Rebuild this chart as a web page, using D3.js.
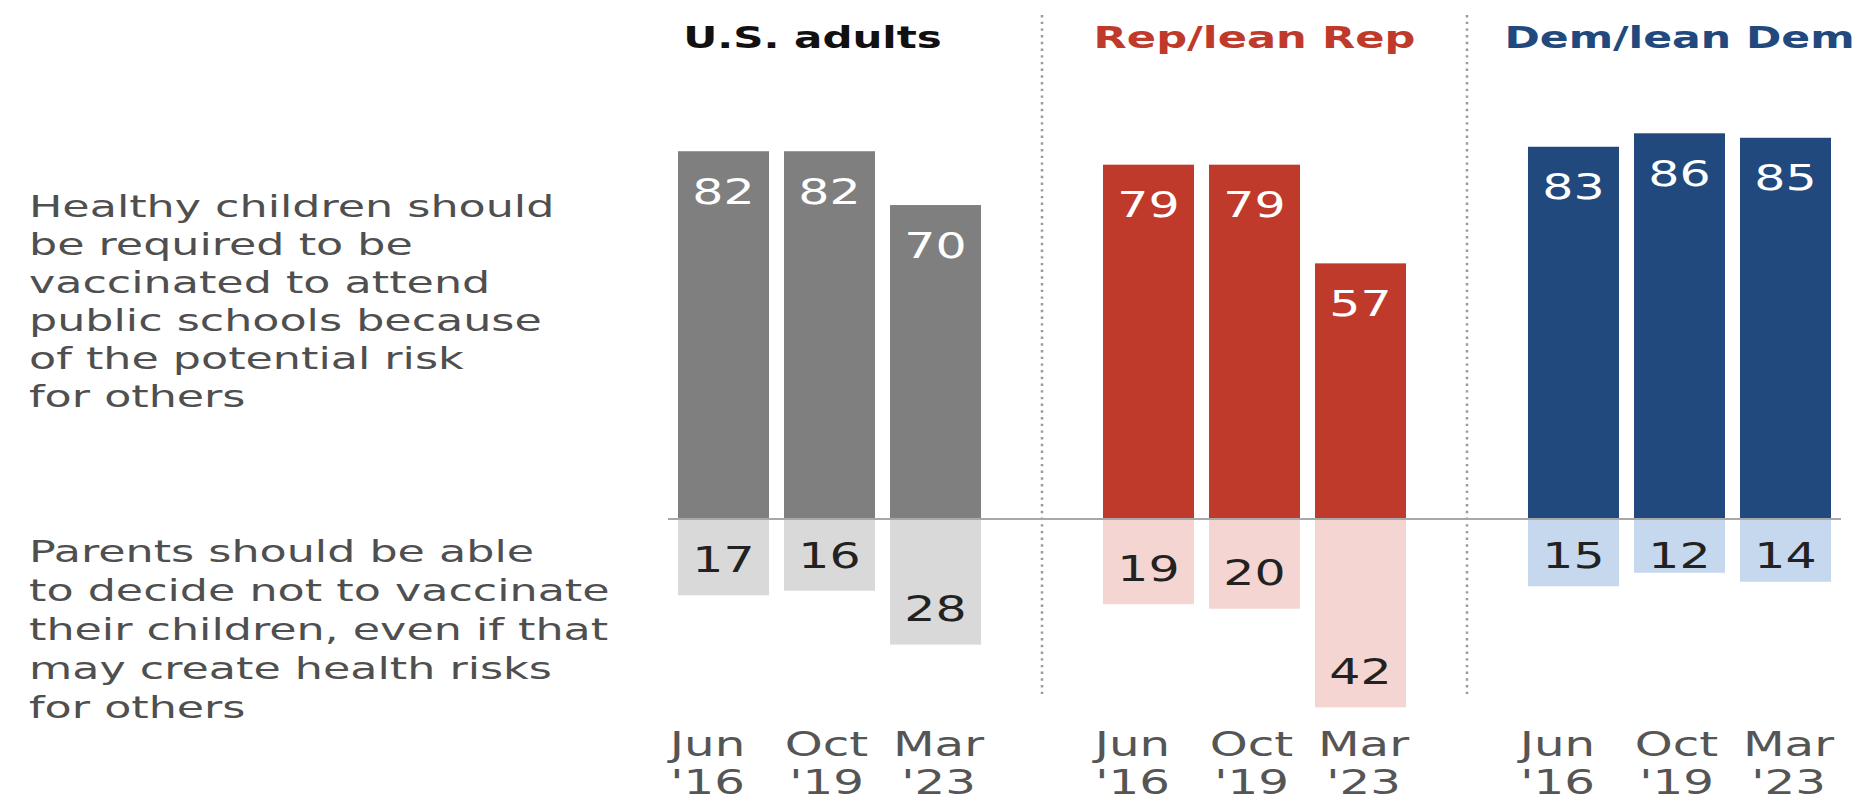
<!DOCTYPE html>
<html>
<head>
<meta charset="utf-8">
<script src="https://cdn.jsdelivr.net/npm/d3@7"></script>
<style>
  html, body { margin: 0; padding: 0; background: #fff; }
  svg { display: block; }
  text { font-family: "DejaVu Sans", sans-serif; }
</style>
</head>
<body>
<svg id="chart" width="1867" height="804"></svg>
<script>
// ---- data ----
const groups = ["U.S. adults", "Rep/lean Rep", "Dem/lean Dem"];
const dates = ["Jun '16", "Oct '19", "Mar '23"];
const dateLines = [["Jun", "'16"], ["Oct", "'19"], ["Mar", "'23"]];
const favorValues = [
  [82, 82, 70],   // U.S. adults
  [79, 79, 57],   // Rep/lean Rep
  [83, 86, 85]    // Dem/lean Dem
];
const opposeValues = [
  [17, 16, 28],
  [19, 20, 42],
  [15, 12, 14]
];
const favorLabel = ["Healthy children should", "be required to be", "vaccinated to attend",
  "public schools because", "of the potential risk", "for others"];
const opposeLabel = ["Parents should be able", "to decide not to vaccinate",
  "their children, even if that", "may create health risks", "for others"];

// ---- styles ----
const darkColors = ["#7f7f7f", "#bf3a2b", "#21497d"];
const lightColors = ["#d9d9d9", "#f4d5d1", "#c6d8ee"];
const titleColors = ["#111111", "#bf3a2b", "#21497d"];
const titleDx = [-17, 0, 0];
const titleScale = [1.4, 1.44, 1.42];
const dateDx = [-16, -3, 3];

const svg = d3.select("#chart");

const x0 = d3.scaleBand().domain(groups).range([678, 1831]).paddingInner(0.287).paddingOuter(0);
const x1 = d3.scaleBand().domain(dates).range([0, x0.bandwidth()]).paddingInner(0.1415).paddingOuter(0);
const y = d3.scaleLinear().domain([0, 100]).range([519, 519 - 448.5]);

const rows = [];
groups.forEach((g, gi) => {
  dates.forEach((d, di) => {
    rows.push({g, gi, d, di, fav: favorValues[gi][di], opp: opposeValues[gi][di]});
  });
});
const bx = r => x0(r.g) + x1(r.d);
const bcx = r => bx(r) + x1.bandwidth() / 2;

// dotted dividers between groups
const dividers = groups.slice(1).map((g, i) => (x0(groups[i]) + x0.bandwidth() + x0(g)) / 2);
svg.selectAll("line.div").data(dividers).join("line")
  .attr("class", "div")
  .attr("x1", d => d).attr("x2", d => d)
  .attr("y1", 15).attr("y2", 696)
  .attr("stroke", "#9a9a9a").attr("stroke-width", 2.5)
  .attr("stroke-dasharray", "2.4,4.3");

// favor bars
svg.selectAll("rect.fav").data(rows).join("rect")
  .attr("class", "fav")
  .attr("x", bx).attr("width", x1.bandwidth())
  .attr("y", r => y(r.fav)).attr("height", r => y(0) - y(r.fav))
  .attr("fill", r => darkColors[r.gi]);

// oppose bars
svg.selectAll("rect.opp").data(rows).join("rect")
  .attr("class", "opp")
  .attr("x", bx).attr("width", x1.bandwidth())
  .attr("y", y(0)).attr("height", r => y(0) - y(r.opp))
  .attr("fill", r => lightColors[r.gi]);

// baseline
svg.append("line")
  .attr("x1", x0.range()[0] - 10).attr("x2", x0.range()[1] + 10)
  .attr("y1", y(0)).attr("y2", y(0))
  .attr("stroke", "#a8a8a8").attr("stroke-width", 2);

// value labels
const numScale = 1.4;
svg.selectAll("text.favlab").data(rows).join("text")
  .attr("class", "favlab")
  .attr("transform", r => `translate(${bcx(r)},${y(r.fav) + 40}) scale(${numScale},1)`)
  .attr("text-anchor", "middle").attr("dy", "0.36em")
  .attr("font-size", 35).attr("fill", "#ffffff")
  .text(r => r.fav);

svg.selectAll("text.opplab").data(rows).join("text")
  .attr("class", "opplab")
  .attr("transform", r => {
    const end = y(0) + (y(0) - y(r.opp));
    const cy = Math.max(end - 36, y(0) + 36);
    return `translate(${bcx(r)},${cy}) scale(${numScale},1)`;
  })
  .attr("text-anchor", "middle").attr("dy", "0.36em")
  .attr("font-size", 35).attr("fill", "#222222")
  .text(r => r.opp);

// group titles
svg.selectAll("text.title").data(groups).join("text")
  .attr("class", "title")
  .attr("transform", (g, i) => `translate(${x0(g) + x0.bandwidth() / 2 + titleDx[i]},48) scale(${titleScale[i]},1)`)
  .attr("text-anchor", "middle")
  .attr("font-size", 30).attr("font-weight", "bold")
  .attr("fill", (g, i) => titleColors[i])
  .text(g => g);

// date labels
rows.forEach(r => {
  const t = svg.append("text")
    .attr("transform", `translate(${bcx(r) + dateDx[r.di]},0) scale(1.42,1)`)
    .attr("text-anchor", "middle")
    .attr("font-size", 34).attr("fill", "#555555");
  dateLines[r.di].forEach((ln, li) => {
    t.append("tspan").attr("x", 0).attr("y", 756 + li * 38).text(ln);
  });
});

// row labels
function rowLabel(lines, baseY, step) {
  const t = svg.append("text")
    .attr("transform", `translate(29,0) scale(1.48,1)`)
    .attr("font-size", 30).attr("fill", "#4f4f4f");
  lines.forEach((ln, i) => {
    t.append("tspan").attr("x", 0).attr("y", baseY + i * step).text(ln);
  });
}
rowLabel(favorLabel, 217, 38);
rowLabel(opposeLabel, 562, 39);
</script>
</body>
</html>
